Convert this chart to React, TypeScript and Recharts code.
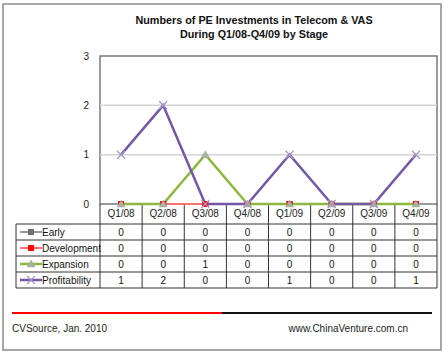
import { LineChart, Line, XAxis, YAxis, CartesianGrid } from 'recharts';

const categories = ['Q1/08', 'Q2/08', 'Q3/08', 'Q4/08', 'Q1/09', 'Q2/09', 'Q3/09', 'Q4/09'];
const earlyValues = [0, 0, 0, 0, 0, 0, 0, 0];
const developmentValues = [0, 0, 0, 0, 0, 0, 0, 0];
const expansionValues = [0, 0, 1, 0, 0, 0, 0, 0];
const profitabilityValues = [1, 2, 0, 0, 1, 0, 0, 1];
const yTicks = [0, 1, 2, 3];

const titleLines = ['Numbers of PE Investments in Telecom & VAS', 'During Q1/08-Q4/09  by Stage'];
const sourceText = 'CVSource, Jan. 2010';
const siteText = 'www.ChinaVenture.com.cn';

const W = 448;
const H = 355;
const PLOT_LEFT = 100;
const PLOT_RIGHT = 437;
const PLOT_TOP = 56;
const PLOT_BOTTOM = 204;
const Y_AXIS_W = 30;
const X_AXIS_H = 20;
const TABLE_LEFT = 16;
const ROW_H = 16;
const FONT = '"Liberation Sans", Arial, sans-serif';
const FS = 10;

const series = [
  { key: 'early', name: 'Early', values: earlyValues, color: '#9a9a9a', marker: 'square', markerColor: '#707070', width: 2 },
  { key: 'development', name: 'Development', values: developmentValues, color: '#ff6f6f', marker: 'square', markerColor: '#ff0000', width: 2 },
  { key: 'expansion', name: 'Expansion', values: expansionValues, color: '#8cb83c', marker: 'triangle', markerColor: '#a9b0a4', width: 2.5 },
  { key: 'profitability', name: 'Profitability', values: profitabilityValues, color: '#7457a6', marker: 'cross', markerColor: '#a898c8', width: 2.5 },
];

const data = categories.map((name, i) => {
  const row: Record<string, string | number> = { name };
  series.forEach(s => { row[s.key] = s.values[i]; });
  return row;
});

function Marker({ type, color, cx, cy }: { type: string; color: string; cx: number; cy: number }) {
  if (type === 'square') {
    return <rect x={cx - 3} y={cy - 3} width={6} height={6} fill={color} />;
  }
  if (type === 'triangle') {
    return <path d={`M${cx},${cy - 4} L${cx + 4},${cy + 3} L${cx - 4},${cy + 3} Z`} fill={color} stroke="#9fae8f" strokeWidth={0.5} />;
  }
  return (
    <g stroke={color} strokeWidth={1.3}>
      <line x1={cx - 4} y1={cy - 4} x2={cx + 4} y2={cy + 4} />
      <line x1={cx - 4} y1={cy + 4} x2={cx + 4} y2={cy - 4} />
    </g>
  );
}

export default function App() {
  const colW = (PLOT_RIGHT - PLOT_LEFT) / categories.length;
  const tableTop = PLOT_BOTTOM + X_AXIS_H;
  const tableBottom = tableTop + ROW_H * series.length;

  return (
    <div style={{ position: 'absolute', left: 0, top: 0, width: W, height: H, background: '#fff' }}>
      <svg width={W} height={H} style={{ position: 'absolute', left: 0, top: 0 }}>
        <rect x={3} y={4} width={438} height={346} fill="#fff" stroke="#8a8a8a" strokeWidth={1.5} />
        {titleLines.map((t, i) => (
          <text key={t} x={254} y={24 + i * 14} textAnchor="middle" fontFamily={FONT} fontWeight="bold" fontSize={10.8} fill="#111">
            {t}
          </text>
        ))}
        <rect x={PLOT_LEFT} y={PLOT_TOP} width={PLOT_RIGHT - PLOT_LEFT} height={PLOT_BOTTOM - PLOT_TOP} fill="#fff" stroke="#7a7a7a" strokeWidth={1.5} />

        {/* data table */}
        <g stroke="#333" strokeWidth={1} fill="none">
          <line x1={TABLE_LEFT} y1={tableTop} x2={PLOT_RIGHT} y2={tableTop} />
          {series.map((s, i) => (
            <line key={s.key} x1={TABLE_LEFT} y1={tableTop + ROW_H * (i + 1)} x2={PLOT_RIGHT} y2={tableTop + ROW_H * (i + 1)} />
          ))}
          <line x1={TABLE_LEFT} y1={tableTop} x2={TABLE_LEFT} y2={tableBottom} />
          {categories.map((c, i) => (
            <line key={c} x1={PLOT_LEFT + colW * i} y1={PLOT_BOTTOM} x2={PLOT_LEFT + colW * i} y2={tableBottom} />
          ))}
          <line x1={PLOT_RIGHT} y1={PLOT_BOTTOM} x2={PLOT_RIGHT} y2={tableBottom} />
        </g>
        {series.map((s, r) => {
          const cy = tableTop + ROW_H * r + ROW_H / 2;
          return (
            <g key={s.key}>
              <line x1={20} y1={cy} x2={42} y2={cy} stroke={s.color} strokeWidth={s.width} />
              <Marker type={s.marker} color={s.markerColor} cx={31} cy={cy} />
              <text x={42} y={cy + 3.5} fontFamily={FONT} fontSize={FS} fill="#111">{s.name}</text>
              {s.values.map((v, i) => (
                <text key={i} x={PLOT_LEFT + colW * i + colW / 2} y={cy + 3.5} textAnchor="middle" fontFamily={FONT} fontSize={FS} fill="#111">
                  {v}
                </text>
              ))}
            </g>
          );
        })}

        {/* footer */}
        <line x1={12} y1={313} x2={222} y2={313} stroke="#ff0000" strokeWidth={2} />
        <line x1={222} y1={313} x2={432} y2={313} stroke="#111" strokeWidth={2} />
        <text x={12} y={332} fontFamily={FONT} fontSize={FS} fill="#222">{sourceText}</text>
        <text x={408} y={332} textAnchor="end" fontFamily={FONT} fontSize={FS} fill="#222">{siteText}</text>
      </svg>

      <div style={{ position: 'absolute', left: 0, top: 0 }}>
        <LineChart
          width={W}
          height={H}
          data={data}
          margin={{ top: PLOT_TOP, right: W - PLOT_RIGHT, bottom: H - PLOT_BOTTOM - X_AXIS_H, left: PLOT_LEFT - Y_AXIS_W }}
        >
          <CartesianGrid vertical={false} stroke="#d4d4d4" strokeWidth={1.5} horizontalValues={[1, 2]} />
          <XAxis
            dataKey="name"
            interval={0}
            height={X_AXIS_H}
            padding={{ left: colW / 2, right: colW / 2 }}
            axisLine={false}
            tickLine={false}
            tickSize={0}
            tickMargin={6}
            tick={{ fontSize: FS, fill: '#222', fontFamily: FONT }}
          />
          <YAxis
            width={Y_AXIS_W}
            domain={[0, 3]}
            ticks={yTicks}
            axisLine={false}
            tickLine={false}
            tickSize={0}
            tickMargin={11}
            tick={{ fontSize: FS, fill: '#222', fontFamily: FONT }}
          />
          {series.map(s => (
            <Line
              key={s.key}
              dataKey={s.key}
              name={s.name}
              stroke={s.color}
              strokeWidth={s.width}
              isAnimationActive={false}
              dot={(p: any) => <Marker key={`${s.key}-${p.index}`} type={s.marker} color={s.markerColor} cx={p.cx} cy={p.cy} />}
              activeDot={false}
            />
          ))}
        </LineChart>
      </div>
    </div>
  );
}
